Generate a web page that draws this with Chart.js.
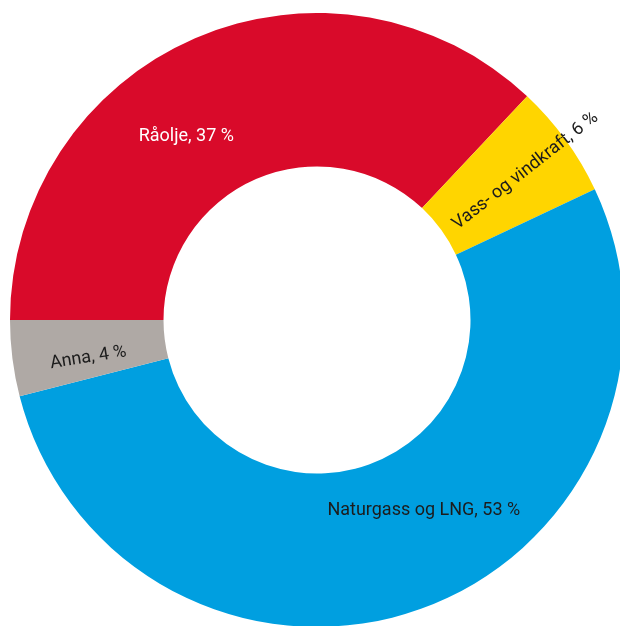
<!DOCTYPE html>
<html>
<head>
<meta charset="utf-8">
<script src="https://cdn.jsdelivr.net/npm/chart.js@4.4.1/dist/chart.umd.min.js"></script>
<style>
    html, body { margin: 0; padding: 0; background: #ffffff; overflow: hidden; width: 620px; height: 626px; }
    #wrap { position: absolute; left: 10px; top: 12.5px; width: 614px; height: 614px; }
</style>
</head>
<body>
<div id="wrap"><canvas id="energy-chart"></canvas></div>
<script>
    // --- DATA ---
    const categories = ['Råolje', 'Vass- og vindkraft', 'Naturgass og LNG', 'Anna'];
    const shares = [37, 6, 53, 4];
    const SLICE_COLORS = ['#d90a2a', '#ffd500', '#009fe0', '#afa9a5'];

    // label placement inside each slice: along = fraction of the slice angle, depth = fraction of ring width
    const labelLayout = [
        { along: 0.41, depth: 0.47, rotate: 0, color: '#ffffff' },
        { along: 0.52, depth: 0.67, rotate: -38, color: '#1c1c1c' },
        { along: 0.45, depth: 0.42, rotate: 0, color: '#1c1c1c' },
        { along: 0.35, depth: 0.51, rotate: -9, color: '#1c1c1c' }
    ];

    const sliceLabels = {
        id: 'sliceLabels',
        afterDatasetsDraw(chart) {
            const ctx = chart.ctx;
            const meta = chart.getDatasetMeta(0);
            meta.data.forEach((arc, i) => {
                const p = arc.getProps(['x', 'y', 'startAngle', 'endAngle', 'innerRadius', 'outerRadius'], true);
                const cfg = labelLayout[i];
                const a = p.startAngle + (p.endAngle - p.startAngle) * cfg.along;
                const r = p.innerRadius + (p.outerRadius - p.innerRadius) * cfg.depth;
                ctx.save();
                ctx.translate(p.x + Math.cos(a) * r, p.y + Math.sin(a) * r);
                ctx.rotate(cfg.rotate * Math.PI / 180);
                ctx.font = '18px Roboto';
                ctx.fillStyle = cfg.color;
                ctx.textAlign = 'center';
                ctx.textBaseline = 'middle';
                ctx.fillText(`${categories[i]}, ${shares[i]} %`, 0, 0);
                ctx.restore();
            });
        }
    };

    new Chart(document.getElementById('energy-chart'), {
        type: 'doughnut',
        data: {
            labels: categories,
            datasets: [{ data: shares, backgroundColor: SLICE_COLORS, borderWidth: 0, hoverOffset: 0 }]
        },
        options: {
            responsive: true,
            maintainAspectRatio: false,
            animation: false,
            rotation: -90,
            cutout: '50%',
            layout: { padding: 0 },
            plugins: { legend: { display: false }, tooltip: { enabled: false } }
        },
        plugins: [sliceLabels]
    });
</script>
</body>
</html>
